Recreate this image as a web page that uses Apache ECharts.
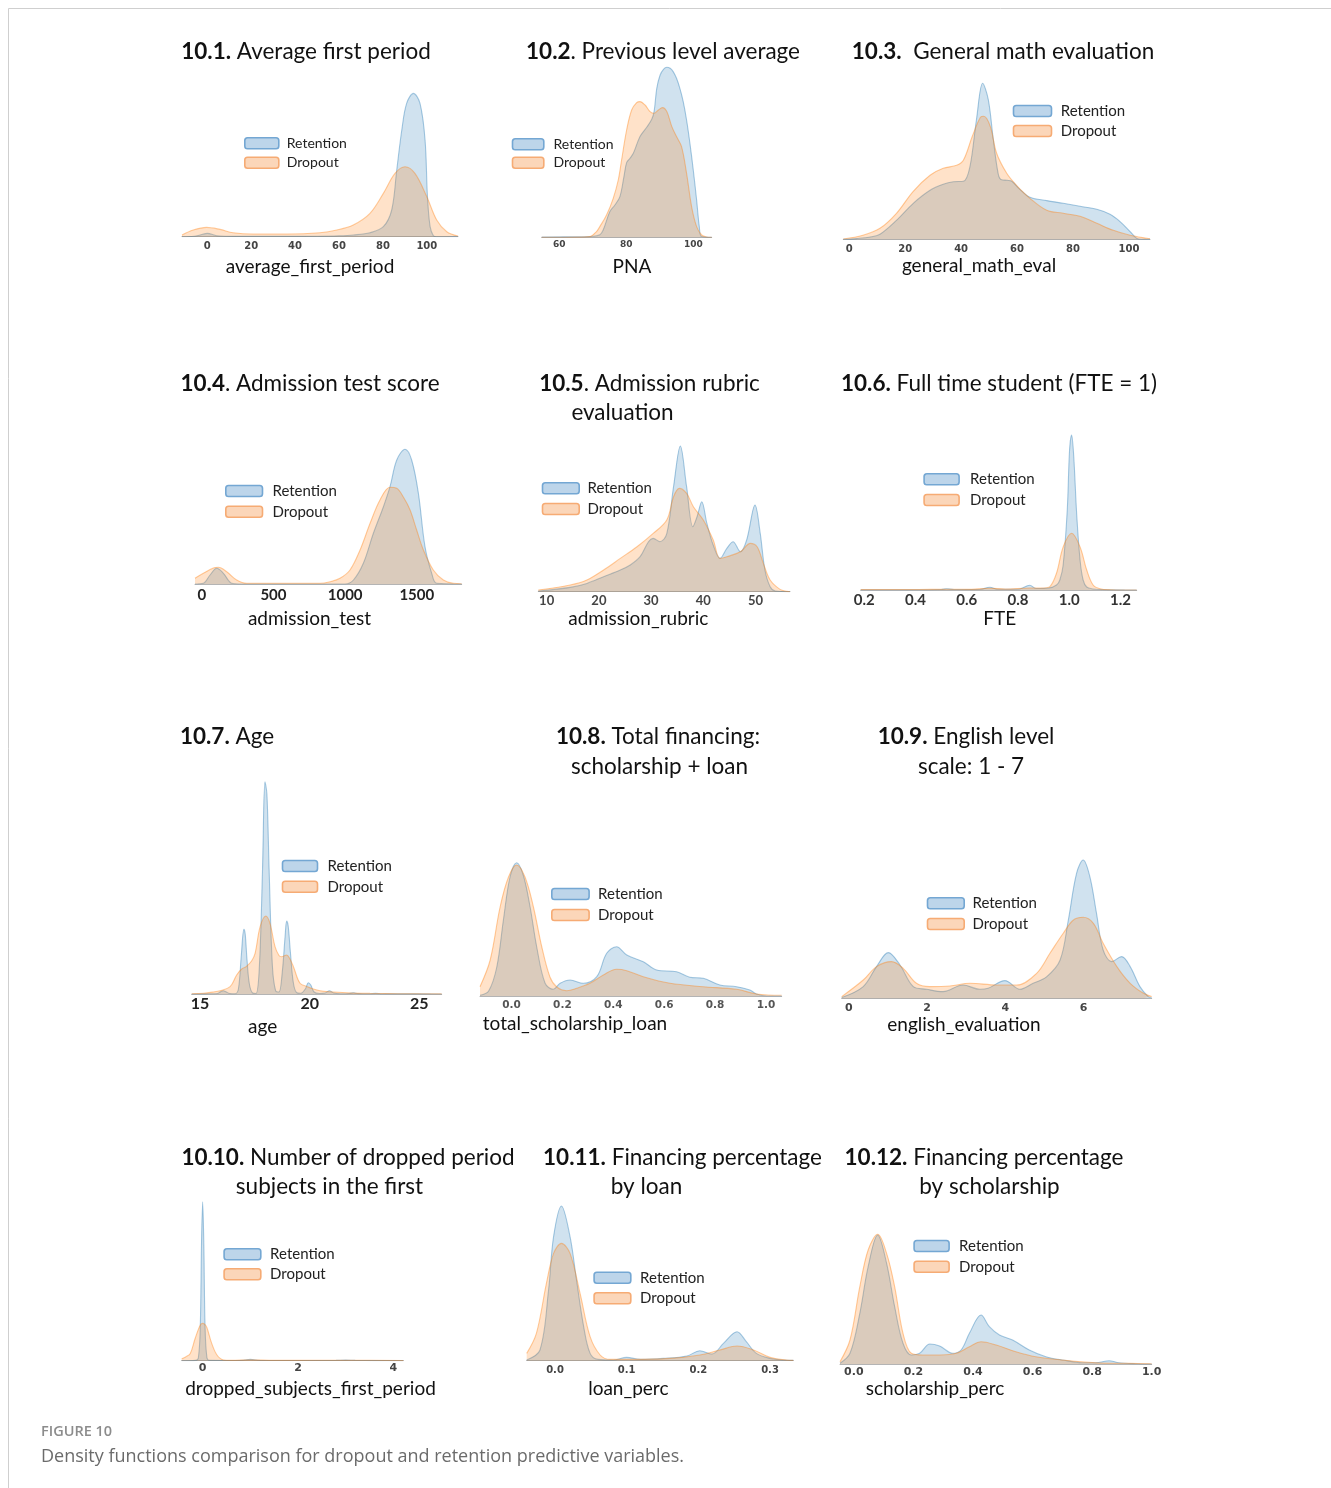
<!DOCTYPE html>
<html>
<head>
<meta charset="utf-8">
<script src="https://cdn.jsdelivr.net/npm/echarts@6/dist/echarts.min.js"></script>
<style>
  html, body { margin: 0; padding: 0; background: #ffffff; }
  #chart { width: 1331px; height: 1488px; }
</style>
</head>
<body>
<div id="chart"></div>
<script>
// Kernel density estimates, [value, density] pairs (density in relative units)
const avgFirstRetention = [[-11.5,0],[-6,0.5],[-3.3,1.7],[0,3.3],[4.3,1],[9,0.4],[13.4,0.3],[30,0.3],[50,0.5],[60,0.9],[66.5,1.7],[74.1,4],[80.2,10],[84,26.7],[86.3,66.7],[88.6,106.7],[90.8,133.3],[93.9,143.3],[96.9,133.3],[99.2,96.7],[100.3,40],[101.5,10],[103,1],[104.5,0],[114.2,0]];
const avgFirstDropout = [[-11.5,1.7],[-6.4,6.7],[-0.3,9.3],[5.8,7.3],[11.8,4],[21,2.7],[36.2,2.7],[51.3,4],[59,6.7],[66.5,11.7],[74.1,23.3],[80.2,43.3],[85.5,63.3],[90.1,70],[94.6,63.3],[100,40],[104.5,16.7],[109.1,5],[114.2,0.7]];

const pnaRetention = [[54.75,0.3],[65,0.5],[70,1],[72.1,2.5],[73.1,7.3],[75.1,25.7],[76.6,32.3],[78.1,40.7],[79.3,60.7],[80.1,74.7],[81.1,79],[82.1,84],[84.1,100.7],[86.1,110],[87.6,118],[88.3,125.7],[89.1,149],[90.1,162.3],[91.1,168],[92.1,170],[93.1,169],[94,165.7],[95,159],[96,149],[97,135.7],[98,117.3],[99,94],[100,67.3],[101,37.3],[101.8,10.7],[102.5,0.7],[105.5,0]];
const pnaDropout = [[54.75,0],[66,0.2],[69.1,0.7],[71.1,5.7],[72.1,10.7],[74.1,22.3],[76.1,39],[77.6,57.3],[78.6,77.3],[80.1,107.3],[81.6,127.3],[83.1,134.7],[84.1,135.7],[85.6,132.3],[87.1,125.7],[88.3,124],[89.6,127.3],[90.8,129.7],[92.1,125.7],[93.6,110.7],[95,100.7],[96.5,90.7],[98,64],[99.5,30.7],[101,10.7],[102.5,2.3],[104,0.3],[105.5,0]];

const mathRetention = [[-2.1,0],[2.6,0.7],[8,2.5],[11,5],[16.9,19],[22.9,36],[28.9,49],[33.6,55],[37.2,57.5],[40.8,58],[43.1,72],[45.5,120],[47.7,156],[49.7,140],[51.5,100],[53.3,65],[54.5,59.5],[56.5,59],[58.1,58],[61,50],[64.6,42],[70.6,38.7],[76.5,36],[82.5,33],[88.5,30],[93.2,25],[96.8,17.7],[100.4,7.7],[102.7,1],[104.5,0],[107.5,0]];
const mathDropout = [[-2.1,0.3],[4.9,4],[11,11],[16.9,26],[22.9,48],[28.9,64],[33.6,71],[38.4,74],[40.8,79],[44,103],[46.9,122],[48.1,123],[50.4,113],[52.7,86],[56.3,66],[59.8,54],[64.6,41],[70.6,29],[76.5,26],[82.5,23],[88.5,16],[94.4,9],[100.4,4],[106.4,1],[107.5,0.7]];

const admTestRetention = [[-47,0],[11,0.7],[58,9],[105,15.7],[151,10.7],[209,0.7],[260,0],[1000,0],[1058,4],[1127,20.7],[1197,50.7],[1267,77.3],[1313,97.3],[1360,124],[1418,134.7],[1464,124],[1511,90.7],[1557,37.3],[1604,10.7],[1639,0.7],[1813,0]];
const admTestDropout = [[-47,5.7],[11,10.7],[81,16],[116,16.7],[174,12.3],[244,4],[314,0.7],[600,0.7],[825,0.7],[895,2.3],[964,5.7],[1034,14],[1104,34],[1174,60.7],[1243,84],[1313,96.7],[1360,95.7],[1406,87],[1453,74],[1499,54],[1546,34],[1615,14],[1685,4],[1755,0.7],[1813,0.3]];

const rubricRetention = [[8.4,0.7],[14.5,4.3],[17.7,8.3],[20.9,15],[24.1,21.7],[26,26.7],[27.9,35],[29.5,50],[30.4,53.3],[31.7,50],[33,58],[34.3,105],[35.6,145.7],[36.8,105],[38,65],[38.8,75],[39.7,90],[40.7,68],[41.9,46.7],[43.2,33.3],[44.5,43.3],[45.7,50],[47.1,40],[48.3,51.7],[49.9,86.7],[50.9,58.3],[51.8,21.7],[52.8,5],[53.8,0.7],[56.6,0]];
const rubricDropout = [[8.4,1.7],[14.5,6.7],[17.7,11.7],[20.9,21.7],[24.1,33.3],[27.3,45],[30.4,58.3],[33,71.7],[34.3,95],[35.4,103.3],[36.8,98.3],[38.1,85],[40,71.7],[41.9,51.7],[43.2,33.3],[44.5,35],[47.1,40],[49,48.3],[50.3,45],[51.5,28.3],[52.8,11.7],[54.7,2.3],[56,0.3],[56.6,0]];

const fteRetention = [[0.186,0.3],[0.4,0.3],[0.5,0.5],[0.521,1.2],[0.55,0.5],[0.65,0.5],[0.69,2.7],[0.72,0.8],[0.8,0.8],[0.846,4.7],[0.87,1.5],[0.92,2],[0.95,5],[0.963,10],[0.976,25],[0.992,80],[1.001,140],[1.009,155],[1.017,135],[1.029,75],[1.042,30],[1.054,10],[1.068,3],[1.093,1],[1.12,0.5],[1.263,0]];
const fteDropout = [[0.186,0.5],[0.4,0.5],[0.521,0.8],[0.6,0.6],[0.69,1.7],[0.75,1],[0.846,2],[0.9,2],[0.924,3.3],[0.95,16.7],[0.976,43],[1.009,56.7],[1.042,43],[1.068,20],[1.093,5],[1.12,1.3],[1.16,0.3],[1.263,0]];

const ageRetention = [[14.62,0],[15.5,0.2],[15.8,0.5],[15.92,2],[16.06,3.3],[16.2,2],[16.35,0.5],[16.6,0.3],[16.75,5],[16.88,38],[17,64.7],[17.06,60],[17.14,35],[17.25,10],[17.4,1],[17.55,0.5],[17.7,25],[17.85,125],[17.96,212.3],[18.05,200],[18.15,125],[18.3,28],[18.45,3],[18.6,2],[18.75,22],[18.88,58],[18.95,73],[19.02,68],[19.12,42],[19.25,12],[19.4,1.5],[19.6,0.8],[19.8,5],[19.94,11.3],[20.05,9],[20.2,2],[20.45,0.5],[20.7,1],[20.9,3.3],[21.1,1],[21.4,0.3],[21.8,0.5],[22,1.2],[22.2,0.4],[22.7,0.2],[23,0.6],[23.3,0.1],[24,0.2],[26.02,0]];
const ageDropout = [[14.62,0.3],[15.15,0.7],[15.6,2],[15.91,3.3],[16.37,7.3],[16.67,19],[16.9,25],[17.1,27.3],[17.35,33],[17.51,40.7],[17.74,67.3],[18,78],[18.19,70.7],[18.42,47.3],[18.6,38.5],[18.72,37.3],[18.95,39],[19.1,35],[19.26,27.3],[19.56,10.7],[19.9,7.3],[20.17,5],[20.47,3.3],[20.9,2.3],[21.69,1.3],[22.75,0.7],[24,0.3],[26.02,0.1]];

const totalFinRetention = [[-0.124,0.7],[-0.09,5],[-0.058,29],[-0.032,76],[-0.006,119],[0.02,133.3],[0.046,121],[0.073,89],[0.099,49],[0.132,12.7],[0.164,6.7],[0.191,12.7],[0.23,16],[0.282,12.7],[0.335,19.3],[0.374,42.7],[0.413,49.3],[0.453,41],[0.518,34.3],[0.571,26],[0.649,24.3],[0.701,18.7],[0.754,17.7],[0.819,11],[0.885,9.3],[0.937,6],[0.963,2],[1.003,0],[1.062,0]];
const totalFinDropout = [[-0.124,9.3],[-0.084,36],[-0.045,89],[-0.012,119],[0.02,131],[0.053,119],[0.086,89],[0.119,49],[0.151,19],[0.178,9],[0.217,5.3],[0.256,7.7],[0.308,12.7],[0.361,21],[0.413,26.7],[0.453,25.3],[0.518,19.3],[0.623,12.7],[0.754,9.3],[0.885,6.7],[0.963,2],[1.062,0.7]];

const englishRetention = [[-0.18,0.7],[0.37,11.7],[0.71,31.7],[1.01,45.7],[1.31,33.3],[1.65,11.7],[1.99,9],[2.41,6.7],[2.92,13.3],[3.35,9],[3.56,10],[3.99,17.7],[4.37,9],[4.71,15],[5.06,21.7],[5.4,38.3],[5.61,78.3],[5.82,125],[5.99,138.3],[6.16,121.7],[6.33,85],[6.5,48.3],[6.72,36.7],[6.97,41.7],[7.19,31.7],[7.44,11.7],[7.65,1.7],[7.74,0.5]];
const englishDropout = [[-0.18,1.7],[0.37,18.3],[0.71,31.7],[1.09,36.7],[1.39,30],[1.73,15],[2.07,11.7],[2.58,12.3],[3.1,15],[3.78,13.3],[4.29,13.3],[4.8,25],[5.14,45],[5.48,65],[5.74,78.3],[5.99,81],[6.25,75],[6.5,55],[6.85,31.7],[7.19,15],[7.53,5],[7.74,1.7]];

const droppedRetention = [[-0.44,0],[-0.15,0.3],[-0.09,3],[-0.05,35],[-0.025,115],[0,159],[0.025,115],[0.05,35],[0.09,3],[0.15,0.3],[0.5,0.2],[0.85,0.5],[1,1.3],[1.15,0.5],[1.5,0.2],[2,0.2],[2.8,0.3],[3,0.6],[3.2,0.3],[3.6,0.1],[4.21,0]];
const droppedDropout = [[-0.44,2],[-0.35,4],[-0.26,7.3],[-0.16,22],[-0.05,35.7],[0,37.3],[0.05,36],[0.09,33],[0.19,17.3],[0.3,5.7],[0.44,0.7],[0.6,0.3],[1,0.8],[1.5,0.3],[2,0.3],[3,0.5],[4.21,0.1]];

const loanRetention = [[-0.0395,0.7],[-0.021,10.7],[-0.009,70.7],[-0.002,124],[0.009,154.7],[0.021,124],[0.03,80.7],[0.04,34],[0.049,7.3],[0.06,1.3],[0.081,0.7],[0.1,3.3],[0.119,1.3],[0.151,2.3],[0.184,4.7],[0.202,10],[0.219,6.7],[0.235,17.3],[0.254,29],[0.267,19],[0.281,7.3],[0.3,2.3],[0.319,0.7],[0.3325,0.3]];
const loanDropout = [[-0.0395,7.3],[-0.026,27.3],[-0.012,77.3],[-0.002,107.3],[0.009,117.3],[0.021,107.3],[0.035,67.3],[0.049,24],[0.063,5.7],[0.077,1.3],[0.105,1.3],[0.16,2.3],[0.202,5.7],[0.23,10.7],[0.254,14.7],[0.277,10.7],[0.3,3.3],[0.323,0.7],[0.3325,0.3]];

const scholRetention = [[-0.0465,0.7],[-0.013,10.7],[0.02,50.7],[0.048,97.3],[0.08,129],[0.11,100.7],[0.137,57.3],[0.165,20.7],[0.193,9],[0.221,10.7],[0.255,20],[0.288,18],[0.332,10.7],[0.36,14],[0.388,30.7],[0.427,49],[0.455,37.3],[0.489,29],[0.533,24],[0.589,14],[0.645,7.3],[0.7,4],[0.767,1.3],[0.812,1.3],[0.857,3.3],[0.89,1.3],[0.946,0.3],[1.0,0]];
const scholDropout = [[-0.0465,2.3],[-0.013,24],[0.02,77.3],[0.048,114],[0.08,129.7],[0.11,110.7],[0.137,77.3],[0.165,30.7],[0.193,10.7],[0.232,9],[0.288,9],[0.344,10.7],[0.388,17.3],[0.427,22.3],[0.478,19],[0.544,12.3],[0.611,7.3],[0.7,4],[0.812,1.3],[0.923,0.7],[1.0,0.3]];

// Tick labels of each x axis
const avgFirstTicks = [0, 20, 40, 60, 80, 100];
const pnaTicks = [60, 80, 100];
const mathTicks = [0, 20, 40, 60, 80, 100];
const admTestTicks = [0, 500, 1000, 1500];
const rubricTicks = [10, 20, 30, 40, 50];
const fteTicks = [0.2, 0.4, 0.6, 0.8, 1.0, 1.2];
const ageTicks = [15, 20, 25];
const totalFinTicks = [0, 0.2, 0.4, 0.6, 0.8, 1.0];
const englishTicks = [0, 2, 4, 6];
const droppedTicks = [0, 2, 4];
const loanTicks = [0, 0.1, 0.2, 0.3];
const scholTicks = [0, 0.2, 0.4, 0.6, 0.8, 1.0];

// Panel titles and axis names
const titles = [
  ['{b|10.1.} Average first period'],
  ['{b|10.2}. Previous level average'],
  ['{b|10.3.}  General math evaluation'],
  ['{b|10.4}. Admission test score'],
  ['{b|10.5}. Admission rubric', 'evaluation'],
  ['{b|10.6.} Full time student (FTE = 1)'],
  ['{b|10.7.} Age'],
  ['{b|10.8.} Total financing:', 'scholarship + loan'],
  ['{b|10.9.} English level', 'scale: 1 - 7'],
  ['{b|10.10.} Number of dropped period', 'subjects in the first'],
  ['{b|10.11.} Financing percentage', 'by loan'],
  ['{b|10.12.} Financing percentage', 'by scholarship']
];
const axisNames = ['average_first_period', 'PNA', 'general_math_eval', 'admission_test', 'admission_rubric', 'FTE',
  'age', 'total_scholarship_loan', 'english_evaluation', 'dropped_subjects_first_period', 'loan_perc', 'scholarship_perc'];

const seriesPairs = [
  [avgFirstRetention, avgFirstDropout, avgFirstTicks],
  [pnaRetention, pnaDropout, pnaTicks],
  [mathRetention, mathDropout, mathTicks],
  [admTestRetention, admTestDropout, admTestTicks],
  [rubricRetention, rubricDropout, rubricTicks],
  [fteRetention, fteDropout, fteTicks],
  [ageRetention, ageDropout, ageTicks],
  [totalFinRetention, totalFinDropout, totalFinTicks],
  [englishRetention, englishDropout, englishTicks],
  [droppedRetention, droppedDropout, droppedTicks],
  [loanRetention, loanDropout, loanTicks],
  [scholRetention, scholDropout, scholTicks]
];

// ---------- layout of the 4 x 3 panel grid ----------
const SANS = 'Lato, "Open Sans", sans-serif';
const MONO = '"DejaVu Sans", sans-serif';
const DENS_MAX = 230;   // height of every density grid, in density units

// x0/x1: axis ends, base: axis line, min/max: axis domain,
// lab: tick label font, off: tick label centre below the axis line
const layout = [
  { x0: 182, x1: 458, base: 236.7, min: -11.5, max: 114.2, lab: [MONO, 10, '#444'], off: 10, dec: 0,
    leg: [244, 143.3, 19.4, 34, 14, 3], name: [310, 266.5], tpos: [[306, 52]] },
  { x0: 541.7, x1: 711.7, base: 237.3, min: 54.75, max: 105.5, lab: [MONO, 9, '#444'], off: 7.7, dec: 0,
    leg: [511.7, 144.3, 18.4, 31.3, 14, 4.7], name: [632, 266.5], tpos: [[663, 52]] },
  { x0: 843.3, x1: 1150, base: 239.3, min: -2.1, max: 107.5, lab: [MONO, 10, '#444'], off: 10, dec: 0,
    leg: [1012.7, 111, 20, 38, 15, 4.3], name: [979, 265.5], tpos: [[1003, 52]] },
  { x0: 195, x1: 461.7, base: 584, min: -47, max: 1813, lab: [SANS, 15, '#222'], off: 11, dec: 0,
    leg: [225, 491, 20.7, 36.7, 15, 5], name: [309.5, 618.5], tpos: [[310, 384]] },
  { x0: 538.3, x1: 790, base: 591.7, min: 8.4, max: 56.6, lab: [SANS, 13, '#444'], off: 9, dec: 0,
    leg: [541.7, 488.3, 20.7, 36.7, 15, 3.3], name: [638.3, 618.5], tpos: [[649.5, 383.5], [622.5, 413]] },
  { x0: 860.7, x1: 1136.7, base: 590, min: 0.186, max: 1.263, lab: [SANS, 15, '#333'], off: 10, dec: 1,
    leg: [923.3, 479.3, 20.7, 35, 15, 6], name: [999.7, 618.5], tpos: [[999, 383.5]] },
  { x0: 191.7, x1: 441.7, base: 994, min: 14.62, max: 26.02, lab: [SANS, 16, '#222'], off: 10, dec: 0,
    leg: [281.7, 866, 20.7, 35, 15, 5], name: [262.7, 1026.5], tpos: [[227, 736.5]] },
  { x0: 480, x1: 781.7, base: 996, min: -0.124, max: 1.062, lab: [MONO, 10.5, '#555'], off: 9, dec: 1,
    leg: [551, 894, 21, 37.3, 15, 4], name: [575, 1024], tpos: [[658, 737], [659.5, 766.5]] },
  { x0: 841.7, x1: 1151.7, base: 998.3, min: -0.18, max: 7.74, lab: [MONO, 11, '#444'], off: 10, dec: 0,
    leg: [926.7, 903.3, 20.7, 36.7, 15, 3.3], name: [964, 1025], tpos: [[966, 737], [971, 766.5]] },
  { x0: 181.7, x1: 403.3, base: 1360.7, min: -0.44, max: 4.21, lab: [MONO, 11, '#444'], off: 7.6, dec: 0,
    leg: [223.3, 1254.3, 20, 36.7, 15, 4.3], name: [310.5, 1388.5], tpos: [[348, 1157.5], [329.5, 1187]] },
  { x0: 526.7, x1: 793.3, base: 1360.7, min: -0.0395, max: 0.3325, lab: [MONO, 10, '#444'], off: 9.3, dec: 1,
    leg: [593.3, 1277.7, 20.6, 36.7, 15, 4.3], name: [628.3, 1388.5], tpos: [[682.5, 1157.5], [646.5, 1187]] },
  { x0: 840, x1: 1151.7, base: 1364, min: -0.0465, max: 1.0, lab: [MONO, 11, '#444'], off: 7.7, dec: 1,
    leg: [913.3, 1246, 20.7, 35, 15, 5], name: [935, 1388.5], tpos: [[984, 1157.5], [989.5, 1187]] }
];

const RET_LINE = 'rgba(31,119,180,0.38)';
const RET_FILL = 'rgba(31,119,180,0.30)';
const DROP_LINE = 'rgba(255,127,14,0.40)';
const DROP_FILL = 'rgba(255,127,14,0.32)';

const grids = [], xAxes = [], yAxes = [], series = [], legends = [], graphics = [];

layout.forEach((p, i) => {
  const [ret, drop, ticks] = seriesPairs[i];
  grids.push({ left: p.x0, top: p.base - DENS_MAX, width: p.x1 - p.x0, height: DENS_MAX,
               outerBoundsMode: 'none', containLabel: false });
  const fs = p.lab[1];
  xAxes.push({
    type: 'value', gridIndex: i, min: p.min, max: p.max,
    splitLine: { show: false },
    axisTick: { show: false },
    axisLine: { show: true, onZero: false, lineStyle: { color: '#b4b4b4', width: 1 } },
    axisLabel: {
      customValues: ticks, showMinLabel: true, showMaxLabel: true,
      fontFamily: p.lab[0], fontSize: fs, fontWeight: 'bold', color: p.lab[2],
      lineHeight: fs, margin: p.off - fs / 2,
      formatter: v => p.dec ? Number(v).toFixed(p.dec) : String(Math.round(v))
    }
  });
  yAxes.push({ type: 'value', gridIndex: i, min: 0, max: DENS_MAX, show: false });

  series.push({
    type: 'line', name: 'Retention', xAxisIndex: i, yAxisIndex: i, data: ret,
    smooth: 0.35, symbol: 'none', silent: true, clip: true,
    lineStyle: { color: RET_LINE, width: 1.1 },
    itemStyle: { color: RET_LINE },
    areaStyle: { color: RET_FILL, origin: 'start' },
    z: 2
  });
  series.push({
    type: 'line', name: 'Dropout', xAxisIndex: i, yAxisIndex: i, data: drop,
    smooth: 0.35, symbol: 'none', silent: true, clip: true,
    lineStyle: { color: DROP_LINE, width: 1.1 },
    itemStyle: { color: DROP_LINE },
    areaStyle: { color: DROP_FILL, origin: 'start' },
    z: 3
  });

  const [lx, ly, lsp, lw, lfs, lpad] = p.leg;
  const rowH = 16;
  legends.push({
    orient: 'vertical', left: lx, top: ly - rowH / 2, padding: 0,
    itemGap: lsp - rowH, itemWidth: lw, itemHeight: 11, selectedMode: false,
    textStyle: { fontFamily: SANS, fontSize: lfs, color: '#222', lineHeight: rowH, padding: [0, 0, 0, lpad] },
    data: [
      { name: 'Retention', icon: 'roundRect',
        itemStyle: { color: '#bdd5ea', borderColor: '#74a7d3', borderWidth: 1.6, opacity: 1 } },
      { name: 'Dropout', icon: 'roundRect',
        itemStyle: { color: '#fbd6b9', borderColor: '#f6ab74', borderWidth: 1.6, opacity: 1 } }
    ]
  });

  titles[i].forEach((t, k) => {
    graphics.push({
      type: 'text', silent: true,
      style: {
        text: t, x: p.tpos[k][0], y: p.tpos[k][1], align: 'center', verticalAlign: 'middle',
        font: '22.5px ' + SANS, fill: '#111',
        rich: { b: { font: 'bold 22.5px ' + SANS, fill: '#111' } }
      }
    });
  });
  graphics.push({
    type: 'text', silent: true,
    style: { text: axisNames[i], x: p.name[0], y: p.name[1], align: 'center', verticalAlign: 'middle',
             font: '19px ' + SANS, fill: '#111' }
  });
});

// figure frame and caption
graphics.push({ type: 'line', silent: true, shape: { x1: 8.5, y1: 8.5, x2: 1331, y2: 8.5 },
                style: { stroke: '#cfcfcf', lineWidth: 1 } });
graphics.push({ type: 'line', silent: true, shape: { x1: 8.5, y1: 8.5, x2: 8.5, y2: 1488 },
                style: { stroke: '#cfcfcf', lineWidth: 1 } });
graphics.push({ type: 'text', silent: true,
  style: { text: 'FIGURE 10', x: 41, y: 1432, verticalAlign: 'middle',
           font: '600 14.5px "Open Sans", sans-serif', fill: '#8c8c8c' } });
graphics.push({ type: 'text', silent: true,
  style: { text: 'Density functions comparison for dropout and retention predictive variables.',
           x: 41, y: 1457, verticalAlign: 'middle', font: '18px "Open Sans", sans-serif', fill: '#6b6b6b' } });

const chart = echarts.init(document.getElementById('chart'), null, { renderer: 'canvas', width: 1331, height: 1488 });
chart.setOption({
  backgroundColor: '#ffffff',
  animation: false,
  grid: grids,
  xAxis: xAxes,
  yAxis: yAxes,
  legend: legends,
  series: series,
  graphic: { elements: graphics }
});
</script>
</body>
</html>
